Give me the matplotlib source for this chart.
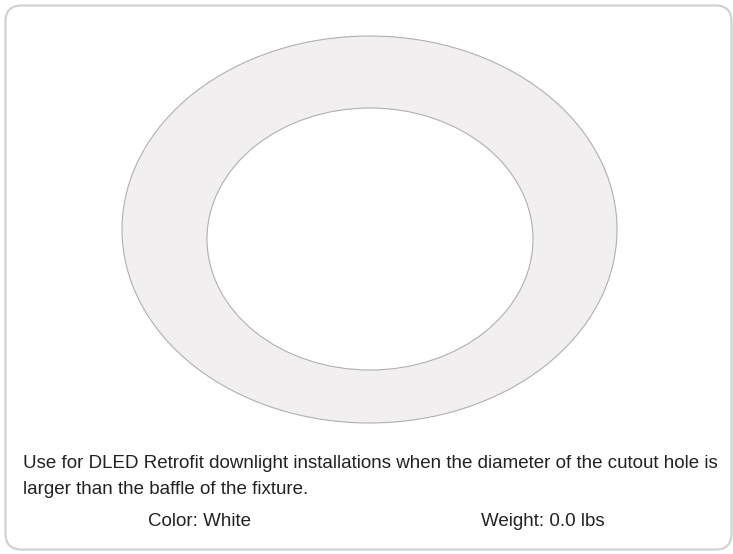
import matplotlib.pyplot as plt
from matplotlib.patches import Ellipse, FancyBboxPatch

# ring, in pixels of the 733x554 picture
outer_center = (369.5, 229.5)
outer_size = (495, 387)
inner_center = (370, 239)
inner_size = (326, 262)

desc_lines = ["Use for DLED Retrofit downlight installations when the diameter of the cutout hole is",
              "larger than the baffle of the fixture."]
spec_labels = ["Color: White", "Weight: 0.0 lbs"]
spec_x = [199, 543]

plt.rcParams['font.family'] = ['Liberation Sans', 'DejaVu Sans']

fig = plt.figure(figsize=(7.33, 5.54), dpi=100)
ax = fig.add_axes([0, 0, 1, 1])
ax.set_xlim(0, 733)
ax.set_ylim(554, 0)
ax.axis('off')

# card outline
card = FancyBboxPatch((5.5, 5.5), 726, 544, boxstyle="round,pad=0,rounding_size=16",
                      fc='white', ec='#d2d2d2', lw=1.6)
ax.add_patch(card)

ax.add_patch(Ellipse(outer_center, outer_size[0], outer_size[1],
                     fc='#f1efef', ec='#b0b0b0', lw=0.8))
ax.add_patch(Ellipse(inner_center, inner_size[0], inner_size[1],
                     fc='white', ec='#b0b0b0', lw=0.8))

for i, line in enumerate(desc_lines):
    ax.text(23, 464 + i * 25, line, fontsize=13.5, color='#222222',
            va='center', ha='left')

for x, lab in zip(spec_x, spec_labels):
    ax.text(x, 522, lab, fontsize=13.5, color='#222222', va='center', ha='center')

fig.savefig('out.png', dpi=100)
